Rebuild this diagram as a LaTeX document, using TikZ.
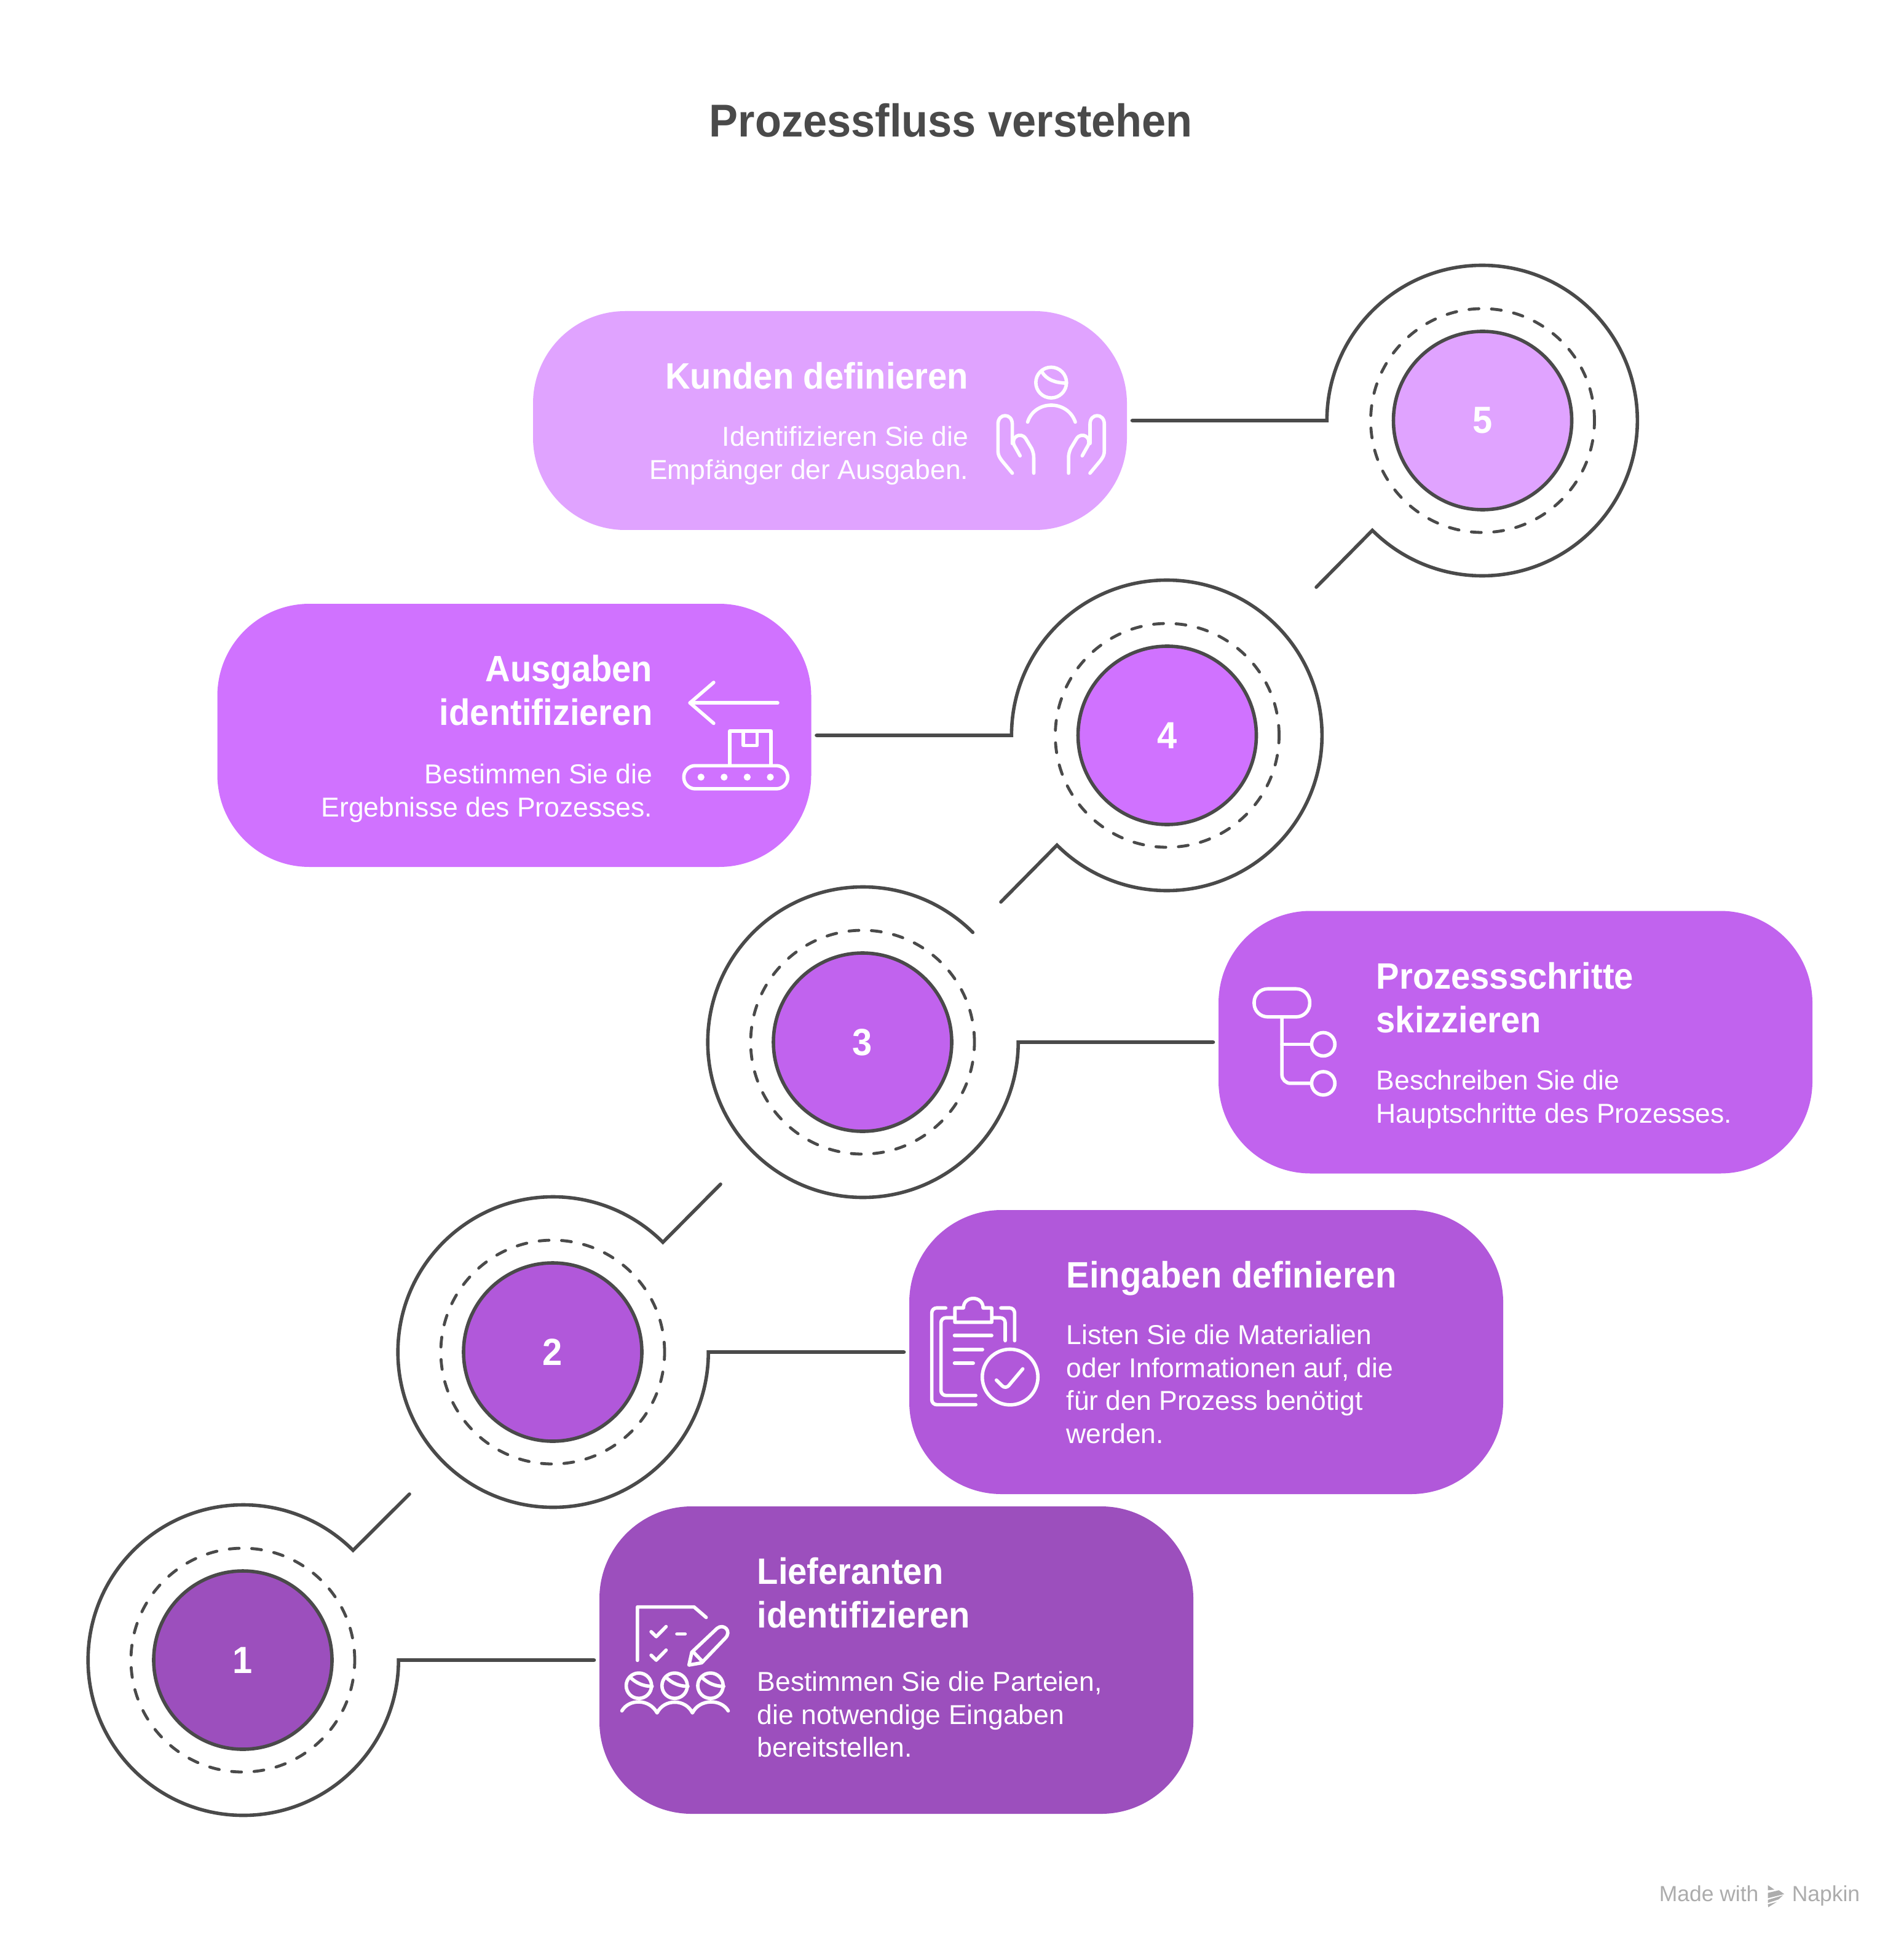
\documentclass[tikz,border=0pt]{standalone}
\usepackage{fontspec}
\setmainfont[BoldFeatures={FakeStretch=0.94}]{Liberation Sans}
\definecolor{inkGray}{HTML}{4A4A4A}
\definecolor{stepA}{HTML}{9C4FBD}
\definecolor{stepB}{HTML}{B158DA}
\definecolor{stepC}{HTML}{C163EE}
\definecolor{stepD}{HTML}{D072FF}
\definecolor{stepE}{HTML}{E0A3FF}
\begin{document}
\begin{tikzpicture}
        [pill/.style={rectangle, minimum width=9.66cm, rounded corners=1.5cm, inner sep=0pt, outer sep=0.085cm},
        disc/.style={circle, draw=inkGray, line width=0.056cm, minimum size=2.9cm, inner sep=0pt, text=white, font=\fontsize{17.5}{20}\selectfont\bfseries},
        dashRing/.style={circle, draw=inkGray, line width=0.048cm, minimum size=3.64cm, inner sep=0pt, line cap=round, dash pattern=on 0.16cm off 0.205cm},
        ring/.style={circle, minimum size=5.05cm, inner sep=0pt},
        link/.style={draw=inkGray, line width=0.056cm, line cap=round},
        head/.style={text=white, align=left, anchor=north west, inner sep=0pt, font=\fontsize{17}{20.2}\selectfont\bfseries},
        desc/.style={text=white, align=left, anchor=north west, inner sep=0pt, font=\fontsize{12.65}{15.2}\selectfont},
        icon/.style={draw=white, line width=0.056cm, line cap=round, line join=round}]
        \useasboundingbox (0,0) rectangle (30.96,-31.65);

        \node[text=inkGray, font=\fontsize{21.3}{25}\selectfont\bfseries] (title) at (15.47,-1.96) {Prozessfluss verstehen};

        % step 1
        \node[pill, fill=stepA, minimum height=5.00cm] (pillA) at (14.58,-27.00) {};
        \node[ring] (ringA) at (3.95,-27.00) {};
        \node[dashRing] (dashA) at (ringA) {};
        \node[disc, fill=stepA] (discA) at (ringA) {1};
        \coordinate (tailA) at (6.66,-24.30);
        \draw[link] (pillA.west) -- (ringA.east) arc[start angle=0, end angle=-315, radius=2.525] -- (tailA);
        \node[head] (headA) at (12.31,-25.32) {Lieferanten\\identifizieren};
        \node[desc] (descA) at (12.31,-27.18) {Bestimmen Sie die Parteien,\\die notwendige Eingaben\\bereitstellen.};

        % step 2
        \node[pill, fill=stepB, minimum height=4.62cm] (pillB) at (19.62,-21.99) {};
        \node[ring] (ringB) at (8.99,-21.99) {};
        \node[dashRing] (dashB) at (ringB) {};
        \node[disc, fill=stepB] (discB) at (ringB) {2};
        \coordinate (tailB) at (11.72,-19.26);
        \draw[link] (pillB.west) -- (ringB.east) arc[start angle=0, end angle=-315, radius=2.525] -- (tailB);
        \node[head] (headB) at (17.34,-20.50) {Eingaben definieren};
        \node[desc] (descB) at (17.34,-21.54) {Listen Sie die Materialien\\oder Informationen auf, die\\für den Prozess benötigt\\werden.};

        % step 3
        \node[pill, fill=stepC, minimum height=4.27cm] (pillC) at (24.65,-16.95) {};
        \node[ring] (ringC) at (14.03,-16.95) {};
        \node[dashRing] (dashC) at (ringC) {};
        \node[disc, fill=stepC] (discC) at (ringC) {3};
        \draw[link] (pillC.west) -- (ringC.east) arc[start angle=0, end angle=-315, radius=2.525];
        \node[head] (headC) at (22.38,-15.64) {Prozessschritte\\skizzieren};
        \node[desc] (descC) at (22.38,-17.40) {Beschreiben Sie die\\Hauptschritte des Prozesses.};

        % step 4
        \node[pill, fill=stepD, minimum height=4.28cm] (pillD) at (8.365,-11.96) {};
        \node[ring] (ringD) at (18.985,-11.96) {};
        \node[dashRing] (dashD) at (ringD) {};
        \node[disc, fill=stepD] (discD) at (ringD) {4};
        \coordinate (tailD) at (16.28,-14.67);
        \draw[link] (pillD.east) -- (ringD.west) arc[start angle=180, end angle=-135, radius=2.525] -- (tailD);
        \node[head, align=right, anchor=north east] (headD) at (10.62,-10.65) {Ausgaben\\identifizieren};
        \node[desc, align=right, anchor=north east] (descD) at (10.62,-12.42) {Bestimmen Sie die\\Ergebnisse des Prozesses.};

        % step 5
        \node[pill, fill=stepE, minimum height=3.56cm] (pillE) at (13.50,-6.84) {};
        \node[ring] (ringE) at (24.115,-6.84) {};
        \node[dashRing] (dashE) at (ringE) {};
        \node[disc, fill=stepE] (discE) at (ringE) {5};
        \coordinate (tailE) at (21.41,-9.55);
        \draw[link] (pillE.east) -- (ringE.west) arc[start angle=180, end angle=-135, radius=2.525] -- (tailE);
        \node[head, align=right, anchor=north east] (headE) at (15.76,-5.89) {Kunden definieren};
        \node[desc, align=right, anchor=north east] (descE) at (15.76,-6.93) {Identifizieren Sie die\\Empfänger der Ausgaben.};

        % icon 1: checklist, pencil, people
        \begin{scope}[shift={(9.6,-24.2)}, x=0.003333cm, y=-0.003333cm, icon]
            \draw (231,843) -- (231,582) -- (508,582) -- (567,633);
            \draw (298,703) -- (323,727) -- (371,678);
            \draw (298,818) -- (323,842) -- (371,793);
            \draw (424,714) -- (464,714);
            \draw (483,866) -- (497,803) -- (620,687) .. controls (652,660) and (695,700) .. (660,735) -- (545,855) -- cycle;
            \draw (507,805) -- (550,850);
            \draw (238,967) circle[radius=62];
            \draw (413,967) circle[radius=62];
            \draw (588,967) circle[radius=62];
            \draw (195,925) .. controls (225,955) and (260,970) .. (303,970);
            \draw (370,925) .. controls (400,955) and (435,970) .. (478,970);
            \draw (545,925) .. controls (575,955) and (610,970) .. (653,970);
            \draw (155,1090) .. controls (190,1030) and (290,1030) .. (327,1100) .. controls (362,1030) and (465,1030) .. (500,1100) .. controls (535,1030) and (640,1030) .. (675,1090);
        \end{scope}

        % icon 2: clipboard
        \begin{scope}[shift={(14.8,-20.8)}, x=0.003333cm, y=-0.003333cm, icon]
            \draw[rounded corners=0.08cm] (175,142) -- (107,142) -- (107,615) -- (322,615);
            \draw[rounded corners=0.08cm] (445,142) -- (512,142) -- (512,302);
            \draw[rounded corners=0.08cm] (215,190) -- (152,190) -- (152,570) -- (322,570);
            \draw[rounded corners=0.08cm] (405,190) -- (466,190) -- (466,302);
            \draw (220,142) -- (262,142) .. controls (262,80) and (358,80) .. (358,142) -- (400,142) -- (400,212) -- (220,212) -- cycle;
            \draw (218,277) -- (400,277);
            \draw (218,345) -- (355,345);
            \draw (218,412) -- (310,412);
            \draw (490,480) circle[radius=136];
            \draw[rounded corners=0.08cm] (423,495) -- (468,540) -- (552,440);
        \end{scope}

        % icon 3: branches
        \begin{scope}[shift={(20,-15.8)}, x=0.003333cm, y=-0.003333cm, icon]
            \draw[rounded corners=0.22cm] (120,85) rectangle (392,222);
            \draw[rounded corners=0.14cm] (256,222) -- (256,547) -- (400,547);
            \draw (256,356) -- (400,356);
            \draw (458,356) circle[radius=57];
            \draw (458,547) circle[radius=57];
        \end{scope}

        % icon 4: arrow and conveyor
        \begin{scope}[shift={(10.9,-10.8)}, x=0.003333cm, y=-0.003333cm, icon]
            \draw (213,90) -- (97,190) -- (213,290);
            \draw (97,190) -- (526,190);
            \draw (292,490) -- (292,328) -- (493,328) -- (493,490);
            \draw (358,328) -- (358,398) -- (425,398) -- (425,328);
            \draw[rounded corners=0.185cm] (67,497) rectangle (575,610);
            \fill[white] (151,553) circle[radius=17];
            \fill[white] (264,553) circle[radius=17];
            \fill[white] (377,553) circle[radius=17];
            \fill[white] (490,553) circle[radius=17];
        \end{scope}

        % icon 5: person and hands
        \begin{scope}[shift={(16,-5.7)}, x=0.003333cm, y=-0.003333cm, icon]
            \draw (330,157) circle[radius=75];
            \draw (285,105) .. controls (310,145) and (350,158) .. (405,160);
            \draw (215,350) .. controls (250,240) and (410,240) .. (448,350);
            \draw (140,600) -- (90,540) .. controls (75,520) and (70,510) .. (70,490) -- (70,360) .. controls (70,305) and (140,305) .. (140,360) -- (140,455);
            \draw (178,515) -- (150,465) .. controls (130,425) and (180,395) .. (205,430) -- (235,480) .. controls (243,500) and (245,510) .. (245,530) -- (245,600);
            \draw (520,600) -- (570,540) .. controls (585,520) and (590,510) .. (590,490) -- (590,360) .. controls (590,305) and (520,305) .. (520,360) -- (520,455);
            \draw (482,515) -- (510,465) .. controls (530,425) and (480,395) .. (455,430) -- (425,480) .. controls (417,500) and (415,510) .. (415,530) -- (415,600);
        \end{scope}

        % footer
        \node[text=gray!65, anchor=base west, inner sep=0pt, font=\fontsize{10.1}{12}\selectfont] (made) at (26.98,-30.92) {Made with};
        \node[text=gray!65, anchor=base west, inner sep=0pt, font=\fontsize{10.1}{12}\selectfont] (napkin) at (29.14,-30.92) {Napkin};
        \begin{scope}[shift={(26.6,-30.4)}, x=0.003333cm, y=-0.003333cm]
            \fill[gray!65] (648,78) -- (680,100) -- (648,103) -- cycle;
            \fill[gray!65] (648,116) -- (702,103) -- (728,122) -- (648,142) -- cycle;
            \fill[gray!65] (648,150) -- (722,128) -- (700,148) -- (648,165) -- cycle;
            \fill[gray!65] (648,172) -- (692,160) -- (650,186) -- cycle;
        \end{scope}
\end{tikzpicture}
\end{document}
